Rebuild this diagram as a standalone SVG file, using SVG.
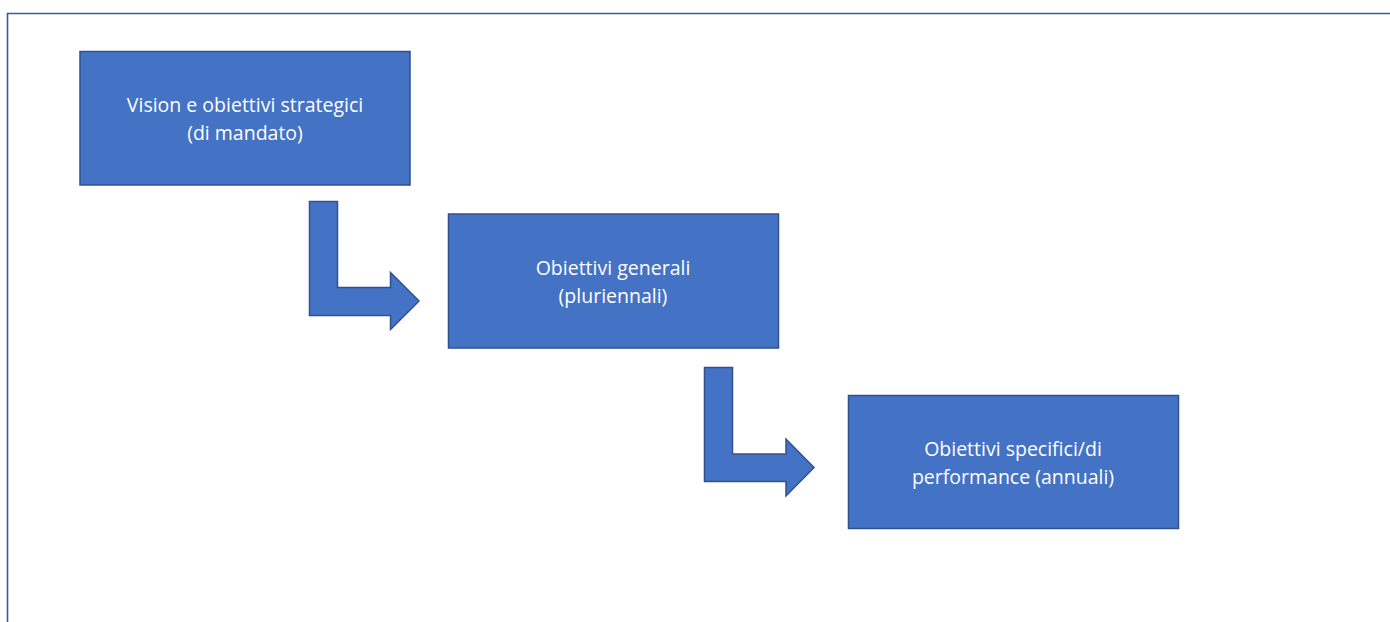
<svg xmlns="http://www.w3.org/2000/svg" width="1390" height="622" viewBox="0 0 1390 622">
  <style>
    .box { fill: #4472C4; stroke: #2F528F; stroke-width: 1.5; }
    .arrow { fill: #4472C4; stroke: #2F528F; stroke-width: 1.5; stroke-linejoin: miter; }
    .lbl { font-family: "Open Sans", "Noto Sans", "Liberation Sans", sans-serif; font-size: 19.5px; fill: #FFFFFF; text-anchor: middle; }
    .frame { fill: none; stroke: #3B5C9C; stroke-width: 1.6; }
  </style>
  <rect width="1390" height="622" fill="#FFFFFF"/>
  <path class="frame" d="M7.5,630 V13.5 H1400"/>
  <g id="node-vision">
    <rect class="box" x="80" y="51.5" width="330" height="133.5"/>
    <text class="lbl" x="245" y="112">Vision e obiettivi strategici</text>
    <text class="lbl" x="245" y="140">(di mandato)</text>
  </g>
  <g id="node-generali">
    <rect class="box" x="448.5" y="214" width="330" height="134"/>
    <text class="lbl" x="613" y="275">Obiettivi generali</text>
    <text class="lbl" x="613" y="303">(pluriennali)</text>
  </g>
  <g id="node-specifici">
    <rect class="box" x="848.5" y="395.5" width="330" height="133"/>
    <text class="lbl" x="1013" y="456">Obiettivi specifici/di</text>
    <text class="lbl" x="1013" y="484">performance (annuali)</text>
  </g>
  <g id="connectors">
    <path class="arrow" d="M309.5,201.5 H337.5 V287.5 H390.5 V272.5 L419,301 L390.5,329.5 V315.5 H309.5 Z"/>
    <path class="arrow" d="M704.5,367.5 H732.5 V454 H786 V439 L814,467.5 L786,496 V481.5 H704.5 Z"/>
  </g>
</svg>
